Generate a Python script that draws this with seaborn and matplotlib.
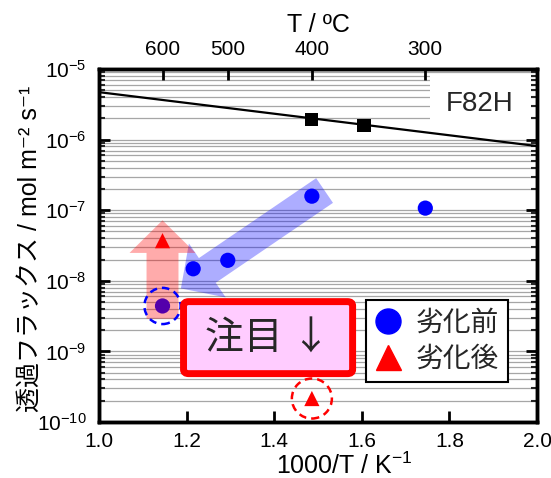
import numpy as np
import pandas as pd
import seaborn as sns
import matplotlib.pyplot as plt
from matplotlib.lines import Line2D
from matplotlib.patches import FancyBboxPatch
from matplotlib.ticker import LogLocator, NullFormatter, FormatStrFormatter

# values
fit_x = [1.0, 2.0]
fit_y = [4.7e-6, 8.1e-7]
ref_x = [1.486, 1.605]
ref_y = [1.95e-6, 1.6e-6]
before_x = [1.145, 1.215, 1.294, 1.486, 1.745]
before_y = [4.4e-9, 1.48e-8, 1.95e-8, 1.58e-7, 1.07e-7]
after_x = [1.145, 1.486]
after_y = [3.7e-8, 2.15e-10]
top_ticks_c = [600, 500, 400, 300]
x_ticks = [1.0, 1.2, 1.4, 1.6, 1.8, 2.0]

# arrows (tail -> tip), data coords
blue_arrow = ((1.515, 1.9e-7), (1.187, 7.8e-9))
red_arrow = ((1.145, 2.9e-9), (1.145, 7.2e-8))

sns.set_theme(style="ticks")
plt.rcParams["font.family"] = ["Liberation Sans", "Noto Sans CJK JP", "DejaVu Sans"]
plt.rcParams["mathtext.fontset"] = "custom"
plt.rcParams["mathtext.rm"] = "Liberation Sans"
plt.rcParams["mathtext.it"] = "Liberation Sans:italic"
plt.rcParams["axes.unicode_minus"] = True

fig = plt.figure(figsize=(5.51, 4.78), dpi=100)
ax = fig.add_axes([99 / 551, 1 - 422 / 478, 438 / 551, 353 / 478])

df_fit = pd.DataFrame({"x": fit_x, "y": fit_y})
df_ref = pd.DataFrame({"x": ref_x, "y": ref_y})
df_before = pd.DataFrame({"x": before_x, "y": before_y})
df_after = pd.DataFrame({"x": after_x, "y": after_y})

sns.lineplot(data=df_fit, x="x", y="y", color="black", lw=1.6, ax=ax, zorder=2)
sns.scatterplot(data=df_ref, x="x", y="y", marker="s", s=90, color="black",
                edgecolor="none", ax=ax, zorder=3)
sns.scatterplot(data=df_before, x="x", y="y", marker="o", s=120, color="blue",
                edgecolor="none", ax=ax, zorder=3)
sns.scatterplot(data=df_after, x="x", y="y", marker="^", s=120, color="red",
                edgecolor="none", ax=ax, zorder=5)

# dashed rings
ax.scatter([before_x[0]], [before_y[0]], s=680, facecolors="none", edgecolors="blue",
           linewidths=1.8, linestyle=(0, (3, 2)), zorder=5)
ax.scatter([after_x[1]], [after_y[1]], s=830, facecolors="none", edgecolors="red",
           linewidths=1.8, linestyle=(0, (3, 2)), zorder=5)

# broad translucent arrows
ax.annotate("", xy=blue_arrow[1], xytext=blue_arrow[0],
            arrowprops=dict(arrowstyle="simple,head_length=0.46,head_width=0.94,tail_width=0.43",
                            mutation_scale=50, fc="blue", ec="none", alpha=0.32,
                            shrinkA=0, shrinkB=0), zorder=2)
ax.annotate("", xy=red_arrow[1], xytext=red_arrow[0],
            arrowprops=dict(arrowstyle="simple,head_length=0.47,head_width=0.95,tail_width=0.46",
                            mutation_scale=50, fc="red", ec="none", alpha=0.33,
                            shrinkA=0, shrinkB=0), zorder=4)

ax.set_yscale("log")
ax.set_xlim(1.0, 2.0)
ax.set_ylim(1e-10, 1e-5)
ax.set_xticks(x_ticks)
ax.xaxis.set_major_formatter(FormatStrFormatter("%.1f"))
ax.yaxis.set_major_locator(LogLocator(base=10, numticks=10))
ax.yaxis.set_minor_locator(LogLocator(base=10, subs=np.arange(2, 10), numticks=100))
ax.yaxis.set_minor_formatter(NullFormatter())

ax.grid(axis="y", which="both", color="#a6a6a6", lw=0.9)
ax.set_axisbelow(True)

ax.tick_params(axis="both", which="major", direction="in", length=8, width=2,
               labelsize=15, colors="black")
ax.tick_params(axis="x", pad=7, top=False)
ax.tick_params(axis="y", which="both", right=True, pad=9)
ax.tick_params(axis="y", which="minor", direction="in", length=4, width=1.5)
for sp in ax.spines.values():
    sp.set_linewidth(2.5)
    sp.set_color("black")

ax.set_xlabel(r"1000/T / K$^{-1}$", fontsize=18, color="black")
ax.xaxis.set_label_coords(0.56, -0.088)
ax.set_ylabel("透過フラックス / mol m⁻² s⁻¹", fontsize=18, color="black")
ax.yaxis.set_label_coords(-0.13, 0.49)

# top temperature axis
ax2 = ax.twiny()
ax2.set_xlim(ax.get_xlim())
ax2.set_xticks(1000 / (np.array(top_ticks_c) + 273.15))
ax2.set_xticklabels([str(t) for t in top_ticks_c])
ax2.tick_params(axis="x", direction="in", length=8, width=2, labelsize=15, pad=7, colors="black")
ax2.set_xlabel("T / ºC", fontsize=18, color="black", labelpad=6)
for sp in ax2.spines.values():
    sp.set_linewidth(2.5)
    sp.set_color("black")

# material label
ax.text(0.87, 0.90, "F82H", transform=ax.transAxes, fontsize=20, ha="center", va="center",
        bbox=dict(fc="white", ec="none", pad=12), zorder=1.5)

# highlighted note box
box = FancyBboxPatch((0.193, 0.137), 0.386, 0.204, transform=ax.transAxes,
                     boxstyle="round,pad=0,rounding_size=0.012", fc="#ffccff", ec="red",
                     lw=5, zorder=6)
ax.add_patch(box)
ax.text(0.386, 0.239, "注目 ↓", transform=ax.transAxes, fontsize=28, ha="center",
        va="center", family=["Noto Sans CJK JP", "DejaVu Sans"], zorder=7)

handles = [
    Line2D([], [], marker="o", color="blue", ls="none", markersize=18),
    Line2D([], [], marker="^", color="red", ls="none", markersize=18),
]
leg = ax.legend(handles, ["劣化前", "劣化後"], loc="upper left", bbox_to_anchor=(0.61, 0.346),
                frameon=True, fancybox=False, framealpha=1, edgecolor="black",
                handlelength=1.0, handletextpad=0.5, borderpad=0.3, labelspacing=0.2,
                borderaxespad=0,
                prop={"family": ["Noto Sans CJK JP", "DejaVu Sans"], "size": 20})
leg.get_frame().set_linewidth(1.5)
leg.set_zorder(7)

fig.savefig("out.png", dpi=100)
